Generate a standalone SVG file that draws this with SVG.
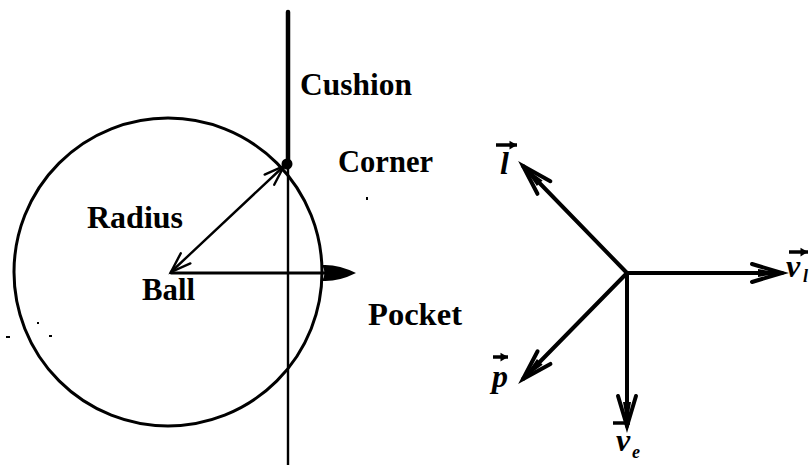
<svg xmlns="http://www.w3.org/2000/svg" width="811" height="465" viewBox="0 0 811 465">
<style>
.lbl{font-family:"Liberation Serif","DejaVu Serif",serif;font-weight:bold;font-size:32px;fill:#000}
.math{font-family:"Liberation Serif","DejaVu Serif",serif;font-weight:bold;font-style:italic;font-size:32px;fill:#000}
.sub{font-family:"Liberation Serif","DejaVu Serif",serif;font-weight:bold;font-style:italic;font-size:18px;fill:#000}
.ln{stroke:#000;fill:none;stroke-linecap:round}
</style>
<defs>
<marker id="vhead" markerUnits="userSpaceOnUse" markerWidth="44" markerHeight="30" refX="0" refY="0" viewBox="-38 -15 44 30" orient="auto" overflow="visible">
<path d="M-30,-9 L0,0 L-30,9" fill="none" stroke="#000" stroke-width="4" stroke-linejoin="miter" stroke-linecap="round"/>
<path d="M-24,-4 L0,0 L-24,4 Z" fill="#000"/>
</marker>
<marker id="thin" markerUnits="userSpaceOnUse" markerWidth="30" markerHeight="30" refX="0" refY="0" viewBox="-26 -13 30 26" orient="auto-start-reverse" overflow="visible">
<path d="M-20,-7 L0,0 L-20,7" fill="none" stroke="#000" stroke-width="2.4" stroke-linecap="round"/>
</marker>
<marker id="over" markerUnits="userSpaceOnUse" markerWidth="10" markerHeight="10" refX="0" refY="0" viewBox="-6 -4 8 8" orient="auto" overflow="visible">
<path d="M-6,-3.5 L0,0 L-6,3.5 Z" fill="#000"/>
</marker>
</defs>

<g id="ball-circle">
<circle cx="168" cy="272" r="154" class="ln" stroke-width="3"/>
</g>

<g id="cushion">
<line x1="288" y1="12" x2="288" y2="164" class="ln" stroke-width="4.5"/>
<line x1="288" y1="164" x2="288" y2="465" class="ln" stroke-width="2.4"/>
<text x="300" y="95" class="lbl" textLength="112" lengthAdjust="spacingAndGlyphs">Cushion</text>
</g>

<g id="corner">
<circle cx="287" cy="164" r="5.5" fill="#000"/>
<text x="338" y="172" class="lbl" textLength="95" lengthAdjust="spacingAndGlyphs">Corner</text>
</g>

<g id="radius-label">
<text x="87" y="228" class="lbl" textLength="96" lengthAdjust="spacingAndGlyphs">Radius</text>
</g>

<g id="ball">
<text x="142" y="300" class="lbl" textLength="53" lengthAdjust="spacingAndGlyphs">Ball</text>
</g>

<g id="pocket">
<text x="368" y="325" class="lbl" textLength="94" lengthAdjust="spacingAndGlyphs">Pocket</text>
</g>

<g id="vector-labels">
<line x1="496" y1="145" x2="517" y2="145" stroke="#000" stroke-width="3.5" marker-end="url(#over)"/>
<text x="500" y="174" class="math">l</text>
<line x1="789" y1="252" x2="808" y2="252" stroke="#000" stroke-width="3.5" marker-end="url(#over)"/>
<text x="786" y="277" class="math">v</text>
<text x="803" y="282" class="sub">l</text>
<line x1="493" y1="357" x2="508" y2="357" stroke="#000" stroke-width="3.5" marker-end="url(#over)"/>
<text x="492" y="387" class="math">p</text>
<line x1="613" y1="423" x2="630" y2="423" stroke="#000" stroke-width="3.5"/>
<text x="616" y="451" class="math">v</text>
<text x="632" y="458" class="sub">e</text>
</g>

<g id="connectors">
<line x1="171" y1="272" x2="284" y2="166" class="ln" stroke-width="2.4" marker-start="url(#thin)" marker-end="url(#thin)"/>
<line x1="171" y1="273" x2="326" y2="273" class="ln" stroke-width="2.8"/>
<path d="M356,273 Q338,264 322,265 Q327,273 322,281 Q338,282 356,273 Z" fill="#000"/>
<line x1="627" y1="273" x2="782" y2="273" class="ln" stroke-width="4" marker-end="url(#vhead)"/>
<line x1="627" y1="273" x2="523" y2="166" class="ln" stroke-width="4" marker-end="url(#vhead)"/>
<line x1="627" y1="273" x2="523" y2="379" class="ln" stroke-width="4" marker-end="url(#vhead)"/>
<line x1="627" y1="273" x2="627" y2="426" class="ln" stroke-width="4" marker-end="url(#vhead)"/>
</g>

<g id="specks" fill="#000">
<rect x="6" y="336" width="4" height="2"/>
<rect x="37" y="322" width="2" height="2"/>
<rect x="49" y="335" width="3" height="2"/>
<rect x="366" y="197" width="2" height="3"/>
</g>
</svg>
